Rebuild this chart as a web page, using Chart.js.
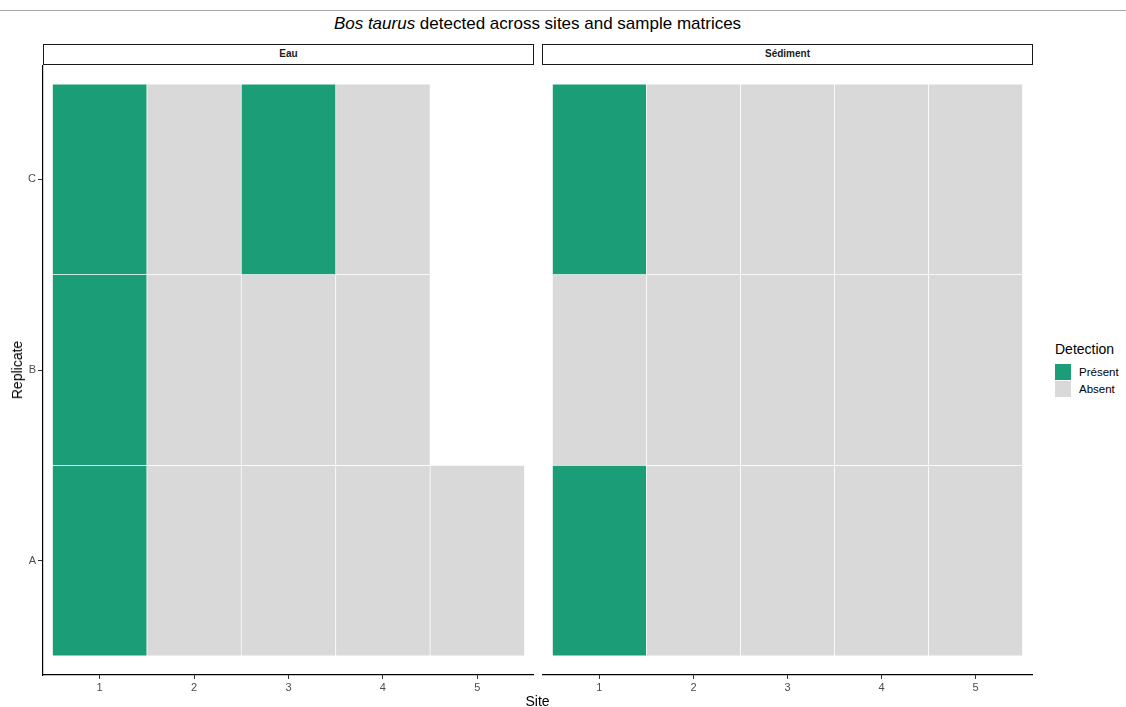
<!DOCTYPE html>
<html>
<head>
<meta charset="utf-8">
<script src="https://cdn.jsdelivr.net/npm/chart.js@4/dist/chart.umd.min.js"></script>
<style>
  html, body { margin:0; padding:0; background:#fff; }
  body { width:1126px; height:707px; position:relative; overflow:hidden; font-family:"Liberation Sans", Arial, Helvetica, sans-serif; }
  .abs { position:absolute; }
  #topline { left:0; top:10px; width:1126px; height:1px; background:#a6a6a6; }
  #title { left:43px; width:989px; top:14px; text-align:center; font-size:17px; color:#000; line-height:20px; }
  .strip { box-sizing:border-box; height:21px; top:44px; border:1.5px solid #1a1a1a; background:#fff; text-align:center; font-size:10px; font-weight:bold; color:#1a1a1a; line-height:18px; }
  #xtitle { left:43px; width:989px; top:693px; text-align:center; font-size:14px; line-height:16px; }
  #ytitle { left:17px; top:370px; font-size:14px; transform:translate(-50%,-50%) rotate(-90deg); white-space:nowrap; }
  #legtitle { left:1055px; top:341px; font-size:14px; line-height:16px; }
  .key { width:16px; height:16px; left:1055px; }
  .klab { left:1079px; font-size:11.5px; line-height:16px; color:#000; }
</style>
</head>
<body>
<div id="topline" class="abs"></div>
<div id="title" class="abs"><i>Bos taurus</i> detected across sites and sample matrices</div>
<div class="abs strip" style="left:43px;width:491px;">Eau</div>
<div class="abs strip" style="left:542px;width:491px;">Sédiment</div>
<div class="abs" style="left:0;top:65px;width:534px;height:640px;"><canvas id="c1"></canvas></div>
<div class="abs" style="left:534px;top:65px;width:500px;height:640px;"><canvas id="c2"></canvas></div>
<div id="xtitle" class="abs">Site</div>
<div id="ytitle" class="abs">Replicate</div>
<div id="legtitle" class="abs">Detection</div>
<div class="abs key" style="top:364px;background:#1b9e77;"></div>
<div class="abs klab" style="top:364px;">Présent</div>
<div class="abs key" style="top:381px;background:#d9d9d9;"></div>
<div class="abs klab" style="top:381px;">Absent</div>
<script>
const sites = [1, 2, 3, 4, 5];
const replicates = ['A', 'B', 'C'];
const statuses = ['Présent', 'Absent'];
const statusColors = ['#1b9e77', '#d9d9d9'];
// Eau (water): one array per replicate, one value per site (null = not sampled)
const eauA = ['Présent', 'Absent', 'Absent', 'Absent', 'Absent'];
const eauB = ['Présent', 'Absent', 'Absent', 'Absent', null];
const eauC = ['Présent', 'Absent', 'Présent', 'Absent', null];
// Sédiment
const sedA = ['Présent', 'Absent', 'Absent', 'Absent', 'Absent'];
const sedB = ['Absent', 'Absent', 'Absent', 'Absent', 'Absent'];
const sedC = ['Présent', 'Absent', 'Absent', 'Absent', 'Absent'];

function buildDatasets(rows) {
  return statuses.map((st, si) => {
    const data = [];
    rows.forEach((row, ri) => {
      row.forEach((v, k) => {
        if (v === st) data.push({ x: sites[k], y: [ri + 0.5, ri + 1.5] });
      });
    });
    return {
      label: st,
      data,
      backgroundColor: statusColors[si],
      borderColor: '#ffffff',
      borderWidth: 0.7,
      borderSkipped: false,
      grouped: false,
      barPercentage: 1,
      categoryPercentage: 1
    };
  });
}

const tickFont = { family: '"Liberation Sans", Arial, Helvetica, sans-serif', size: 11 };

function makeOptions(showY) {
  return {
    responsive: true,
    maintainAspectRatio: false,
    animation: false,
    layout: { padding: showY ? { left: 0, right: 0, top: 0, bottom: 0 } : { left: 9, right: 2, top: 0, bottom: 0 } },
    plugins: { legend: { display: false }, tooltip: { enabled: false }, title: { display: false } },
    scales: {
      x: {
        type: 'linear',
        offset: false,
        min: 0.4, max: 5.6,
        afterBuildTicks: (s) => { s.ticks = sites.map(v => ({ value: v })); },
        afterFit: (s) => { s.height = 30; s.paddingLeft = 0; s.paddingRight = 0; },
        ticks: { color: '#4d4d4d', font: tickFont, padding: 2, maxRotation: 0, autoSkip: false, callback: (v) => String(v) },
        grid: { display: true, offset: false, drawOnChartArea: false, drawTicks: true, tickLength: 4, color: '#333333', lineWidth: 1 },
        border: { display: true, color: '#000000', width: 1.2 }
      },
      y: {
        type: 'linear',
        offset: false,
        display: showY,
        min: 0.4, max: 3.6,
        afterBuildTicks: (s) => { s.ticks = replicates.map((r, i) => ({ value: i + 1 })); },
        afterFit: (s) => { s.width = showY ? 43 : 0; s.paddingTop = 0; s.paddingBottom = 0; },
        ticks: { color: '#4d4d4d', font: tickFont, padding: 2, autoSkip: false, callback: (v) => replicates[Math.round(v) - 1] },
        grid: { display: true, offset: false, drawOnChartArea: false, drawTicks: true, tickLength: 5, color: '#333333', lineWidth: 1 },
        border: { display: true, color: '#000000', width: 1.2 }
      }
    }
  };
}

new Chart(document.getElementById('c1'), {
  type: 'bar',
  data: { datasets: buildDatasets([eauA, eauB, eauC]) },
  options: makeOptions(true)
});
new Chart(document.getElementById('c2'), {
  type: 'bar',
  data: { datasets: buildDatasets([sedA, sedB, sedC]) },
  options: makeOptions(false)
});
</script>
</body>
</html>
